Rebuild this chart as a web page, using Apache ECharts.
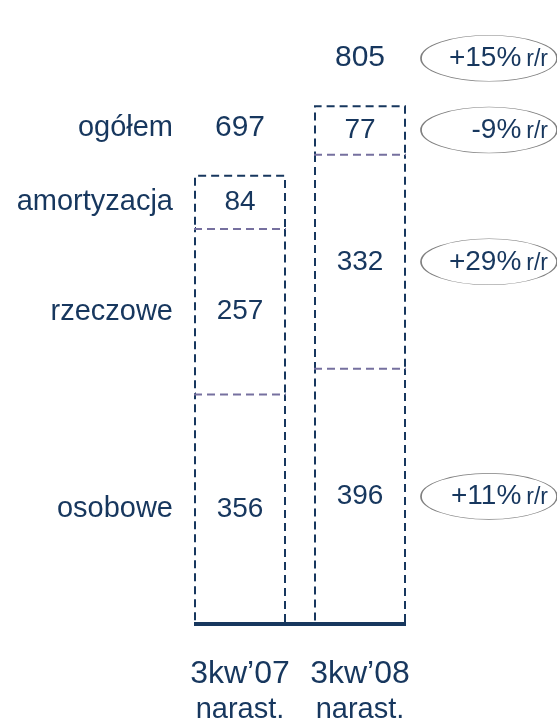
<!DOCTYPE html>
<html>
<head>
<meta charset="utf-8">
<script src="https://cdn.jsdelivr.net/npm/echarts@6/dist/echarts.min.js"></script>
<style>
  html, body { margin: 0; padding: 0; background: #fff; }
  #chart { width: 557px; height: 718px; }
</style>
</head>
<body>
<div id="chart"></div>
<script>
// dane
var periods = ['3kw’07', '3kw’08'];
var periodNote = 'narast.';
var segmentNames = ['osobowe', 'rzeczowe', 'amortyzacja'];
var osobowe = [356, 396];
var rzeczowe = [257, 332];
var amortyzacja = [84, 77];
var totalName = 'ogółem';
var ogolem = [697, 805];
var yoySegments = ['+11%', '+29%', '-9%'];   // zmiana r/r dla 3kw'08, wg segmentu
var yoyTotal = '+15%';

var NAVY = '#17375e';
var FONT = '"Liberation Sans", Arial, sans-serif';
var BAR_W = 92;
var TOP_OFF = -47;   // etykiety sumy nad słupkiem

var stacks = [osobowe, rzeczowe, amortyzacja];

// środek segmentu k w kategorii i
function mid(k, i) {
  var base = 0;
  for (var j = 0; j < k; j++) base += stacks[j][i];
  return base + stacks[k][i] / 2;
}

// granice wewnętrzne (linie fioletowe)
var dividers = [];
periods.forEach(function (p, i) {
  var base = 0;
  for (var k = 0; k < stacks.length - 1; k++) {
    base += stacks[k][i];
    dividers.push([i, base]);
  }
});

var barSeries = stacks.map(function (vals, k) {
  return {
    name: segmentNames[k],
    type: 'bar',
    stack: 'koszty',
    barWidth: BAR_W,
    data: vals,
    z: 2,
    itemStyle: {
      color: '#fff',
      borderColor: NAVY,
      borderWidth: 2,
      borderType: [8, 5]
    },
    label: {
      show: true,
      position: 'inside',
      color: NAVY,
      fontSize: 28,
      fontFamily: FONT
    }
  };
});

// etykiety po lewej
var leftLabels = segmentNames.map(function (n, k) {
  return { name: n, value: [0, mid(k, 0)] };
});
leftLabels.push({ name: totalName, value: [0, ogolem[0]], label: { offset: [-67, TOP_OFF] } });

// elipsy r/r po prawej
var yoyData = yoySegments.map(function (t, k) {
  return { name: t, value: [1, mid(k, 1)] };
});
yoyData.push({ name: yoyTotal, value: [1, ogolem[1]], symbolOffset: [129, TOP_OFF] });

var chart = echarts.init(document.getElementById('chart'));
chart.setOption({
  animation: false,
  backgroundColor: '#fff',
  grid: { left: 180, width: 240, top: 44, bottom: 94, containLabel: false, outerBoundsMode: 'none' },
  xAxis: {
    type: 'category',
    data: periods,
    axisLine: { show: false },
    axisTick: { show: false },
    axisLabel: {
      margin: 32,
      formatter: function (v) { return '{a|' + v + '}\n{b|' + periodNote + '}'; },
      rich: {
        a: { color: NAVY, fontSize: 32, fontFamily: FONT, lineHeight: 36 },
        b: { color: NAVY, fontSize: 29, fontFamily: FONT, lineHeight: 36 }
      }
    }
  },
  yAxis: {
    type: 'value',
    min: 0,
    max: 900,
    show: false,
    splitLine: { show: false }
  },
  series: barSeries.concat([
    {
      type: 'custom',
      name: 'dividers',
      z: 3,
      data: dividers,
      renderItem: function (params, api) {
        var p = api.coord([api.value(0), api.value(1)]);
        var x1 = p[0] - BAR_W / 2, x2 = p[0] + BAR_W / 2;
        return {
          type: 'group',
          children: [
            { type: 'line', shape: { x1: x1 + 2, y1: p[1], x2: x2 - 2, y2: p[1] }, style: { stroke: '#fff', lineWidth: 7 } },
            { type: 'line', shape: { x1: x1, y1: p[1], x2: x2, y2: p[1] }, style: { stroke: '#76709f', lineWidth: 2, lineDash: [8, 5] } }
          ]
        };
      }
    },
    {
      type: 'custom',
      name: 'baseline',
      z: 4,
      data: [[0, 0]],
      renderItem: function (params, api) {
        var p0 = api.coord([0, 0]);
        var p1 = api.coord([periods.length - 1, 0]);
        return {
          type: 'line',
          shape: { x1: p0[0] - BAR_W / 2, y1: p0[1], x2: p1[0] + BAR_W / 2, y2: p1[1] },
          style: { stroke: NAVY, lineWidth: 4 }
        };
      }
    },
    {
      type: 'scatter',
      name: 'left',
      symbolSize: 0,
      clip: false,
      z: 5,
      itemStyle: { opacity: 1 },
      data: leftLabels,
      label: {
        show: true,
        position: 'inside',
        align: 'right',
        offset: [-67, 0],
        formatter: '{b}',
        color: NAVY,
        fontSize: 29,
        fontFamily: FONT
      }
    },
    {
      type: 'scatter',
      name: 'sumy',
      symbolSize: 0,
      clip: false,
      z: 5,
      itemStyle: { opacity: 1 },
      data: ogolem.map(function (v, i) { return [i, v]; }),
      label: {
        show: true,
        position: 'inside',
        offset: [0, TOP_OFF],
        formatter: function (p) { return p.value[1]; },
        color: NAVY,
        fontSize: 30,
        fontFamily: FONT
      }
    },
    {
      type: 'scatter',
      name: 'rr',
      symbol: 'circle',
      symbolSize: [136, 46],
      symbolOffset: [129, 0],
      clip: false,
      z: 5,
      data: yoyData,
      itemStyle: { color: '#fff', borderColor: '#808080', borderWidth: 1, opacity: 1 },
      label: {
        show: true,
        position: 'inside',
        align: 'right',
        offset: [59, 0],
        formatter: function (p) { return '{a|' + p.name + '}{s| }{b|r/r}'; },
        rich: {
          a: { color: NAVY, fontSize: 28, fontFamily: FONT, verticalAlign: 'bottom' },
          s: { fontSize: 18, fontFamily: FONT, verticalAlign: 'bottom' },
          b: { color: NAVY, fontSize: 23, fontFamily: FONT, verticalAlign: 'bottom', padding: [0, 0, 1, 0] }
        }
      }
    }
  ])
});
</script>
</body>
</html>
